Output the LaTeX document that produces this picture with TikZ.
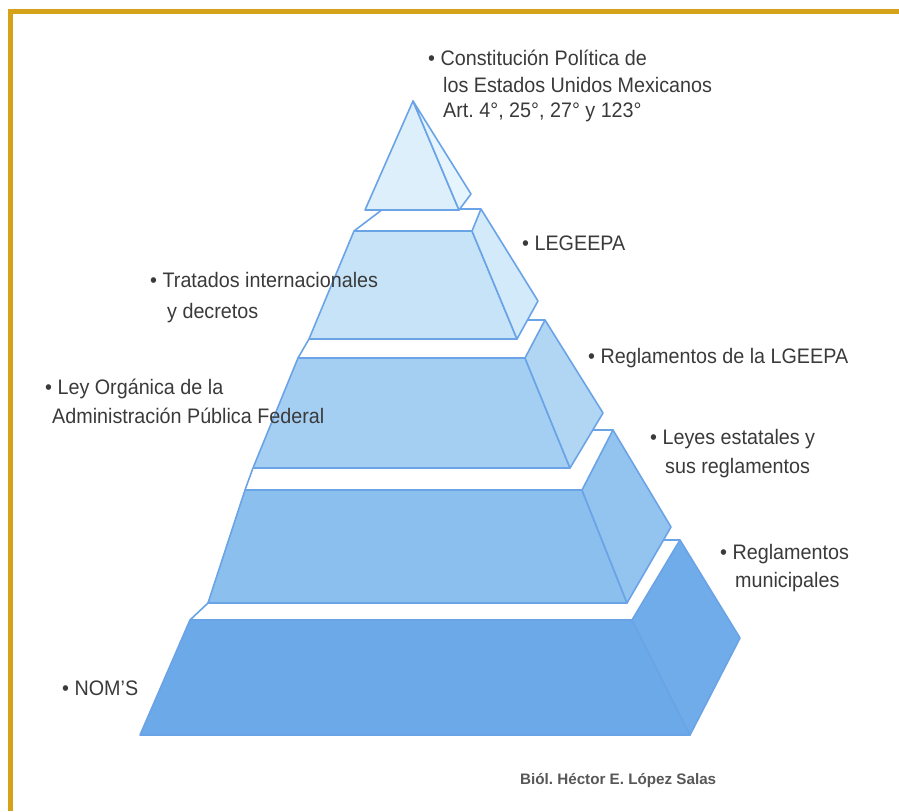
\documentclass[tikz,border=0pt]{standalone}
\usepackage{fontspec}
\setmainfont{Liberation Sans}
\newfontfamily\labfont{Liberation Sans}[FakeStretch=0.94]
\frenchspacing
\definecolor{gold}{HTML}{D4A31A}
\definecolor{outl}{HTML}{6AA3E6}
\definecolor{txt}{HTML}{3A3A3A}
\definecolor{tAf}{HTML}{DCEFFB}\definecolor{tAs}{HTML}{E6F4FD}
\definecolor{tBf}{HTML}{C6E3F8}\definecolor{tBs}{HTML}{D2EAFA}
\definecolor{tCf}{HTML}{A5CFF2}\definecolor{tCs}{HTML}{B0D6F4}
\definecolor{tDf}{HTML}{8BBFEE}\definecolor{tDs}{HTML}{93C4EF}
\definecolor{tEf}{HTML}{6BA9E8}\definecolor{tEs}{HTML}{70ACE9}
\tikzset{
  face/.style={draw=outl, line width=1.6pt, line join=round},
  lab/.style={anchor=base west, inner sep=0pt, text=txt, font=\labfont\fontsize{21}{25}\selectfont},
  author/.style={anchor=base west, inner sep=0pt, text=txt!85, font=\bfseries\fontsize{15.2}{18}\selectfont},
}
\begin{document}
\begin{tikzpicture}[x=1pt,y=-1pt]
\useasboundingbox (0,0) rectangle (899,811);
% frame
\fill[gold] (8,9) rectangle (899,14);
\fill[gold] (8,9) rectangle (13,811);

% ---- tier 5 (bottom)
\fill[white] (190,620) -- (632,620) -- (680,540) -- (240,540) -- (208,603) -- cycle;
\draw[face] (208,603) -- (190,620);
\draw[face] (680,540) -- (600,540);
\draw[face, fill=tEf] (190,620) -- (632,620) -- (690,735) -- (140,735) -- cycle;
\draw[face, fill=tEs] (632,620) -- (680,540) -- (740,638) -- (690,735) -- cycle;

% ---- tier 4
\fill[white] (245,490) -- (582,490) -- (613,430) -- (293,430) -- (253,468) -- cycle;
\draw[face] (253,468) -- (245,490);
\draw[face] (613,430) -- (580,430);
\draw[face, fill=tDf] (245,490) -- (582,490) -- (627,603) -- (208,603) -- cycle;
\draw[face, fill=tDs] (582,490) -- (613,430) -- (671,527) -- (627,603) -- cycle;

% ---- tier 3
\fill[white] (298,358) -- (525,358) -- (545,320) -- (340,320) -- (309,339) -- cycle;
\draw[face] (309,339) -- (298,358);
\draw[face] (545,320) -- (515,320);
\draw[face, fill=tCf] (298,358) -- (525,358) -- (570,468) -- (253,468) -- cycle;
\draw[face, fill=tCs] (525,358) -- (545,320) -- (603,413) -- (570,468) -- cycle;

% ---- tier 2
\fill[white] (354,231) -- (472,231) -- (481,209) -- (383,209) -- cycle;
\draw[face] (383,209) -- (354,231);
\draw[face] (481,209) -- (383,209);
\draw[face, fill=tBf] (354,231) -- (472,231) -- (517,339) -- (309,339) -- cycle;
\draw[face, fill=tBs] (472,231) -- (481,209) -- (538,301) -- (517,339) -- cycle;

% ---- tier 1 (apex)
\draw[face, fill=tAf] (413,101) -- (459,210) -- (365,210) -- cycle;
\draw[face, fill=tAs] (413,101) -- (471,194) -- (459,210) -- cycle;

% ---- labels
\node[lab] (c1) at (428,65) {\textbullet\ Constitución Política de};
\node[lab] (c2) at (443,92) {los Estados Unidos Mexicanos};
\node[lab] (c3) at (443,117) {Art. 4°, 25°, 27° y 123°};
\node[lab] (lg) at (522,250) {\textbullet\ LEGEEPA};
\node[lab] (tr1) at (150,287) {\textbullet\ Tratados internacionales};
\node[lab] (tr2) at (167,318) {y decretos};
\node[lab] (rl) at (588,363) {\textbullet\ Reglamentos de la LGEEPA};
\node[lab] (lo1) at (45,394) {\textbullet\ Ley Orgánica de la};
\node[lab] (lo2) at (52,423) {Administración Pública Federal};
\node[lab] (le1) at (650,444) {\textbullet\ Leyes estatales y};
\node[lab] (le2) at (665,473) {sus reglamentos};
\node[lab] (rm1) at (720,559) {\textbullet\ Reglamentos};
\node[lab] (rm2) at (735,587) {municipales};
\node[lab] (nm) at (62,695) {\textbullet\ NOM’S};
\node[author] (au) at (520,784) {Biól. Héctor E. López Salas};
\end{tikzpicture}
\end{document}
